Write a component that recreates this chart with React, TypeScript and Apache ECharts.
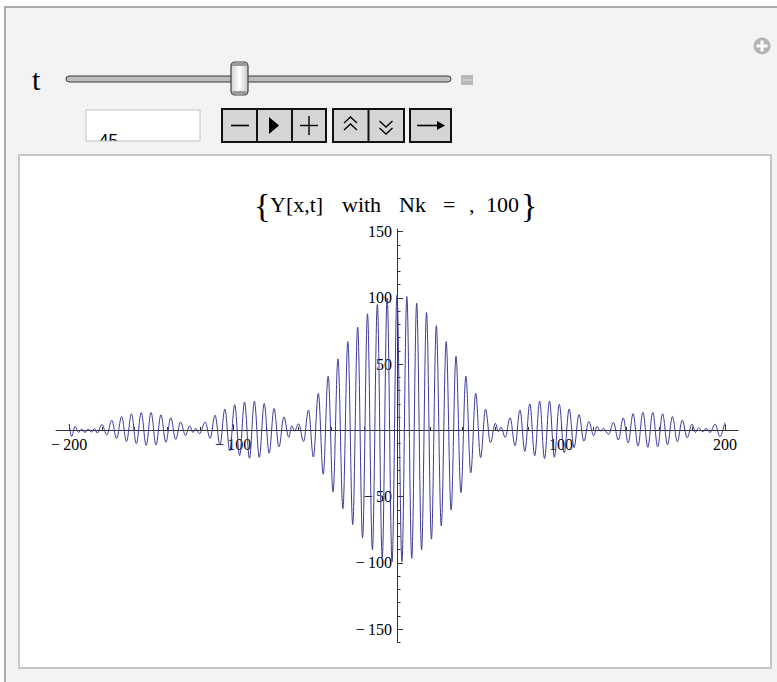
import React, { useEffect, useRef } from "react";
import * as echarts from "echarts";

// Extrema of Y[x,t], [x, y]
const leftTail: [number, number][] = [
  [-200, 5], [-198.5, -4.5], [-196.3, 3], [-194.3, -1.5], [-192.3, 1], [-190.3, -1.5],
  [-188.3, 1], [-186.3, -1.2], [-184.5, 1.5], [-182.8, -2],
];
const leftOuter: [number, number][] = [
  [-180, 4.5], [-177, -3.4], [-174, 7.7], [-171, -6.2], [-168, 10.5], [-165, -8.4],
  [-162, 12.5], [-159, -10], [-156, 13.5], [-153, -11.2], [-150, 13.5], [-147, -11],
  [-144, 11.8], [-141, -9], [-138, 9.6], [-135, -6.8], [-132, 6.4], [-129, -3.8], [-126.5, 3.5],
];
const leftNodeOuter: [number, number][] = [[-124.5, -1.5], [-122.7, 1.5], [-120.5, -2.5]];
const leftMiddle: [number, number][] = [
  [-117, 6.4], [-114, -6], [-111, 11.5], [-108, -11], [-105, 16.2], [-102, -15.5],
  [-99, 19.4], [-96, -19], [-93, 21.5], [-90, -21], [-87, 22.1], [-84, -20.3],
  [-81, 20.3], [-78, -17.2], [-75, 16.5], [-72, -12.5], [-69, 10.2], [-66, -5.2],
];
const leftNodeInner: [number, number][] = [[-64.2, 3.5], [-62.6, -0.5]];
const central: [number, number][] = [
  [-60, 5], [-57, -8.4], [-54, 15.4], [-51, -20], [-48, 28], [-45, -33], [-42, 41],
  [-39, -46.5], [-36, 54], [-33, -59], [-30, 67], [-27, -71], [-24, 78], [-21, -81],
  [-18, 88], [-15, -90], [-12, 95], [-9, -96], [-6, 100], [-3, -99], [0, 102],
  [3, -99], [6, 101], [9, -96.5], [12, 96], [15, -90], [18, 89], [21, -82], [24, 79],
  [27, -72], [30, 67], [33, -60], [36, 56], [39, -47], [42, 41], [45, -32], [48, 28],
  [51, -20.5], [54, 16], [57, -9.2], [60, 5.4],
];
const rightNodeInner: [number, number][] = [[61.8, -1], [63.4, 2.5]];
const rightMiddle: [number, number][] = [
  [66, -5.2], [69, 9.6], [72, -11.5], [75, 15.4], [78, -15.8], [81, 20], [84, -19],
  [87, 22], [90, -21.2], [93, 22], [96, -20.2], [99, 19.7], [102, -16.8], [105, 16.2],
  [108, -13], [111, 12], [114, -8.1], [117, 6.7], [120, -4],
];
const rightNodeOuter: [number, number][] = [[122, 3], [124, -0.5], [126, 1.5]];
const rightOuter: [number, number][] = [
  [129, -3], [132, 6], [135, -7.2], [138, 9.4], [141, -9.4], [144, 12.6], [147, -11.8],
  [150, 13.7], [153, -12.7], [156, 13.7], [159, -12.4], [162, 12.6], [165, -10.9],
  [168, 10.5], [171, -8.5], [174, 7.7], [177, -5.5], [180, 4.8],
];
const rightTail: [number, number][] = [
  [182, -1.5], [184, 2], [186.5, -1], [188.5, 1.5], [191, -1.5], [194, 4.7], [197, -4.7], [200, 5.9],
];

const xMajorTicks = [-200, -100, 100, 200];
const xMinorTicks = [-180, -160, -140, -120, -80, -60, -40, -20, 20, 40, 60, 80, 120, 140, 160, 180];
const yMajorTicks = [-150, -100, -50, 50, 100, 150];
const yMinorTicks = [
  -160, -140, -130, -120, -110, -90, -80, -70, -60, -40, -30, -20, -10,
  10, 20, 30, 40, 60, 70, 80, 90, 110, 120, 130, 140,
];
const titlePieces = ["Y[x,t]", "with", "Nk", "=", ",", "100"];
const sliderLabel = "t";
const sliderValue = "45";

const SERIF = '"Liberation Serif", "Times New Roman", serif';
const fmt = (v: number) => (v < 0 ? "\u2212\u2009" + Math.abs(v) : String(v));

export default function App() {
  const ref = useRef<HTMLDivElement>(null);
  useEffect(() => {
    const chart = echarts.init(ref.current!, null, { renderer: "svg" });
    const curve = [
      ...leftTail, ...leftOuter, ...leftNodeOuter, ...leftMiddle, ...leftNodeInner,
      ...central, ...rightNodeInner, ...rightMiddle, ...rightNodeOuter, ...rightOuter, ...rightTail,
    ];
    const titleX = [270, 342, 399, 443, 469, 486];
    const bg = -20;
    const graphics: any[] = [
      // outer panel
      { type: "rect", z: bg, shape: { x: 5, y: 7, width: 800, height: 700 }, style: { fill: "#f3f3f3", stroke: "#ababab", lineWidth: 2 } },
      // plus icon
      { type: "circle", z: bg, shape: { cx: 762, cy: 46, r: 8.5 }, style: { fill: "#b4b4b4" } },
      { type: "rect", z: bg, shape: { x: 756.5, y: 44.5, width: 11, height: 3 }, style: { fill: "#fff" } },
      { type: "rect", z: bg, shape: { x: 760.5, y: 40.5, width: 3, height: 11 }, style: { fill: "#fff" } },
      // slider label
      { type: "text", z: bg, x: 32, y: 79, style: { text: sliderLabel, font: "30px " + SERIF, fill: "#000", verticalAlign: "middle" } },
      // slider track
      { type: "rect", z: bg, shape: { x: 66, y: 76, width: 385, height: 6, r: 3 }, style: { fill: "#bdbdbd", stroke: "#3a3a3a", lineWidth: 1 } },
      // knob
      {
        type: "rect", z: bg, shape: { x: 231, y: 62, width: 17, height: 33, r: 4 },
        style: {
          fill: new echarts.graphic.LinearGradient(0, 0, 1, 0, [
            { offset: 0, color: "#cfcfcf" }, { offset: 0.5, color: "#ffffff" }, { offset: 1, color: "#c4c4c4" },
          ]),
          stroke: "#404040", lineWidth: 1.2,
        },
      },
      { type: "rect", z: bg, shape: { x: 232, y: 63, width: 15, height: 3, r: 2 }, style: { fill: "#9a9a9a" } },
      { type: "rect", z: bg, shape: { x: 232, y: 91, width: 15, height: 3, r: 2 }, style: { fill: "#9a9a9a" } },
      // minus square
      { type: "rect", z: bg, shape: { x: 461, y: 75, width: 12, height: 10 }, style: { fill: "#b8b8b8" } },
      { type: "line", z: bg, shape: { x1: 463, y1: 80, x2: 471, y2: 80 }, style: { stroke: "#e8e8e8", lineWidth: 1 } },
      // input field
      { type: "rect", z: bg, shape: { x: 86, y: 110, width: 114, height: 31 }, style: { fill: "#fff" } },
      { type: "text", z: bg, x: 99, y: 132, style: { text: sliderValue, font: '17px "Liberation Sans", Arial, sans-serif', fill: "#000", verticalAlign: "top" } },
      { type: "rect", z: bg, shape: { x: 80, y: 141, width: 130, height: 12 }, style: { fill: "#f3f3f3" } },
      { type: "rect", z: bg, shape: { x: 86, y: 110, width: 114, height: 31 }, style: { fill: "none", stroke: "#c2c2c2", lineWidth: 1 } },
      // button group 1
      { type: "rect", z: bg, shape: { x: 222, y: 109, width: 104, height: 33 }, style: { fill: "#d5d5d5", stroke: "#111", lineWidth: 2 } },
      { type: "line", z: bg, shape: { x1: 257, y1: 109, x2: 257, y2: 142 }, style: { stroke: "#111", lineWidth: 2 } },
      { type: "line", z: bg, shape: { x1: 292, y1: 109, x2: 292, y2: 142 }, style: { stroke: "#111", lineWidth: 2 } },
      { type: "line", z: bg, shape: { x1: 231, y1: 125.5, x2: 249, y2: 125.5 }, style: { stroke: "#000", lineWidth: 1.6 } },
      { type: "polygon", z: bg, shape: { points: [[269, 117], [279, 125.5], [269, 134]] }, style: { fill: "#000" } },
      { type: "line", z: bg, shape: { x1: 300, y1: 125.5, x2: 318, y2: 125.5 }, style: { stroke: "#000", lineWidth: 1.4 } },
      { type: "line", z: bg, shape: { x1: 309, y1: 116, x2: 309, y2: 135 }, style: { stroke: "#000", lineWidth: 1.4 } },
      // button group 2
      { type: "rect", z: bg, shape: { x: 333, y: 109, width: 71, height: 33 }, style: { fill: "#d5d5d5", stroke: "#111", lineWidth: 2 } },
      { type: "line", z: bg, shape: { x1: 368.5, y1: 109, x2: 368.5, y2: 142 }, style: { stroke: "#111", lineWidth: 2 } },
      { type: "polyline", z: bg, shape: { points: [[344, 123], [350.5, 117], [357, 123]] }, style: { stroke: "#000", lineWidth: 1.3, fill: "none" } },
      { type: "polyline", z: bg, shape: { points: [[344, 130], [350.5, 124], [357, 130]] }, style: { stroke: "#000", lineWidth: 1.3, fill: "none" } },
      { type: "polyline", z: bg, shape: { points: [[379.5, 121], [386, 127], [392.5, 121]] }, style: { stroke: "#000", lineWidth: 1.3, fill: "none" } },
      { type: "polyline", z: bg, shape: { points: [[379.5, 128], [386, 134], [392.5, 128]] }, style: { stroke: "#000", lineWidth: 1.3, fill: "none" } },
      // button group 3
      { type: "rect", z: bg, shape: { x: 410, y: 109, width: 41, height: 33 }, style: { fill: "#d5d5d5", stroke: "#111", lineWidth: 2 } },
      { type: "line", z: bg, shape: { x1: 417, y1: 125.5, x2: 439, y2: 125.5 }, style: { stroke: "#000", lineWidth: 1.6 } },
      { type: "polygon", z: bg, shape: { points: [[437, 121], [445, 125.5], [437, 130]] }, style: { fill: "#000" } },
      // plot frame
      { type: "rect", z: bg, shape: { x: 19, y: 155, width: 752, height: 513 }, style: { fill: "#fff", stroke: "#c6c6c6", lineWidth: 2 } },
      // title braces and pieces
      { type: "text", z: 5, x: 254, y: 205, style: { text: "{", font: "34px " + SERIF, fill: "#000", verticalAlign: "middle" } },
      { type: "text", z: 5, x: 521, y: 205, style: { text: "}", font: "34px " + SERIF, fill: "#000", verticalAlign: "middle" } },
      ...titlePieces.map((p, i) => ({
        type: "text", z: 5, x: titleX[i], y: 204,
        style: { text: p, font: "22px " + SERIF, fill: "#000", verticalAlign: "middle" },
      })),
    ];

    const axisColor = "#333";
    const labelStyle = { fontFamily: SERIF, fontSize: 16, color: "#000" };
    chart.setOption({
      animation: false,
      graphic: graphics,
      grid: { left: 56, top: 229, width: 682, height: 413.5, containLabel: false, outerBoundsMode: "none" },
      xAxis: [
        {
          type: "value", min: -208, max: 208, position: "bottom",
          axisLine: { onZero: true, onZeroAxisIndex: 0, lineStyle: { color: axisColor, width: 1 } },
          axisTick: { show: true, inside: true, length: 6, customValues: xMajorTicks, lineStyle: { color: axisColor } },
          axisLabel: { ...labelStyle, customValues: xMajorTicks, formatter: fmt, margin: -206 },
          splitLine: { show: false },
        },
        {
          type: "value", min: -208, max: 208, position: "bottom",
          axisLine: { show: false, onZero: true, onZeroAxisIndex: 0 },
          axisTick: { show: true, inside: true, length: 3.5, customValues: xMinorTicks, lineStyle: { color: axisColor } },
          axisLabel: { show: false },
          splitLine: { show: false },
        },
      ],
      yAxis: [
        {
          type: "value", min: -160, max: 152, position: "left",
          axisLine: { onZero: true, onZeroAxisIndex: 0, lineStyle: { color: axisColor, width: 1 } },
          axisTick: { show: true, inside: true, length: 6, customValues: yMajorTicks, lineStyle: { color: axisColor } },
          axisLabel: { ...labelStyle, customValues: yMajorTicks, formatter: fmt, margin: -336 },
          splitLine: { show: false },
        },
        {
          type: "value", min: -160, max: 152, position: "left",
          axisLine: { show: false, onZero: true, onZeroAxisIndex: 0 },
          axisTick: { show: true, inside: true, length: 3.5, customValues: yMinorTicks, lineStyle: { color: axisColor } },
          axisLabel: { show: false },
          splitLine: { show: false },
        },
      ],
      series: [
        {
          type: "line", xAxisIndex: 0, yAxisIndex: 0, data: curve,
          smooth: 0.364, smoothMonotone: "x", showSymbol: false, symbol: "none",
          lineStyle: { color: "#3b3b9b", width: 1 }, clip: false,
        },
      ],
    });
    return () => chart.dispose();
  }, []);
  return <div ref={ref} style={{ position: "absolute", left: 0, top: 0, width: 777, height: 682 }} />;
}
